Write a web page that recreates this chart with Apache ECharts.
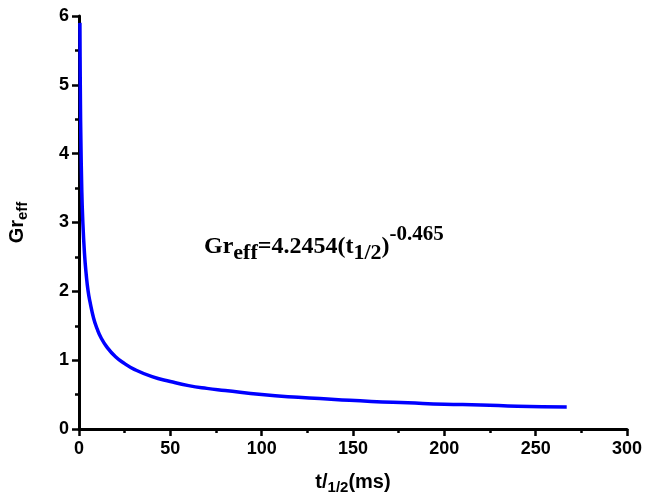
<!DOCTYPE html>
<html>
<head>
<meta charset="utf-8">
<script src="https://cdn.jsdelivr.net/npm/echarts@6/dist/echarts.min.js"></script>
<style>
  html, body { margin: 0; padding: 0; background: #fff; }
  #chart { width: 657px; height: 496px; }
</style>
</head>
<body>
<div id="chart"></div>
<script>
// t1/2 (ms) and Gr_eff
var tHalf = [0.5, 0.6, 0.8, 1, 1.5, 2, 3, 4, 5, 6, 8, 10, 12, 15, 20, 25, 30, 40, 50, 60, 70, 80, 100, 120, 140, 160, 180, 200, 220, 240, 267];
var grEff = [5.9, 5.4, 4.7, 4.25, 3.5, 3.07, 2.55, 2.23, 2.0, 1.85, 1.61, 1.45, 1.33, 1.20, 1.05, 0.95, 0.87, 0.76, 0.69, 0.63, 0.59, 0.56, 0.50, 0.46, 0.43, 0.40, 0.38, 0.36, 0.35, 0.33, 0.32];

var xTicks = [0, 50, 100, 150, 200, 250, 300];
var yTicks = [0, 1, 2, 3, 4, 5, 6];

var chart = echarts.init(document.getElementById('chart'));

var points = [];
for (var i = 0; i < tHalf.length; i++) {
    points.push([tHalf[i], grEff[i]]);
}

var labelFont = {
    color: '#000',
    fontFamily: 'Liberation Sans, Arial, sans-serif',
    fontWeight: 'bold',
    fontSize: 18
};

var nameStyle = {
    color: '#000',
    fontFamily: 'Liberation Sans, Arial, sans-serif',
    fontWeight: 'bold',
    fontSize: 20,
    rich: {
        sub: {
            fontFamily: 'Liberation Sans, Arial, sans-serif',
            fontWeight: 'bold',
            fontSize: 15,
            padding: [10, 0, 0, 0]
        }
    }
};

var option = {
    backgroundColor: '#fff',
    animation: false,
    grid: {
        left: 79,
        right: 30,
        top: 16,
        bottom: 67,
        containLabel: false,
        outerBoundsMode: 'none'
    },
    xAxis: {
        type: 'value',
        min: xTicks[0],
        max: xTicks[xTicks.length - 1],
        interval: 50,
        name: 't/{sub|1/2}(ms)',
        nameLocation: 'middle',
        nameGap: 41,
        nameTextStyle: nameStyle,
        splitLine: { show: false },
        axisLine: { onZero: false, lineStyle: { color: '#000', width: 3 } },
        axisTick: { length: 7, lineStyle: { color: '#000', width: 2.5 } },
        minorTick: { show: true, splitNumber: 2, length: 4, lineStyle: { color: '#000', width: 2.5 } },
        axisLabel: Object.assign({ margin: 11 }, labelFont)
    },
    yAxis: {
        type: 'value',
        min: yTicks[0],
        max: yTicks[yTicks.length - 1],
        interval: 1,
        name: 'Gr{sub|eff}',
        nameLocation: 'middle',
        nameRotate: 90,
        nameGap: 49,
        nameTextStyle: nameStyle,
        splitLine: { show: false },
        axisLine: { onZero: false, lineStyle: { color: '#000', width: 3 } },
        axisTick: { length: 7, lineStyle: { color: '#000', width: 2.5 } },
        minorTick: { show: true, splitNumber: 2, length: 4, lineStyle: { color: '#000', width: 2.5 } },
        axisLabel: Object.assign({ margin: 10 }, labelFont)
    },
    graphic: [{
        type: 'text',
        left: 204,
        top: 224,
        style: {
            text: '{b|Gr}{s|eff}{b|=4.2454(t}{s|1/2}{b|)}{p|-0.465}',
            fill: '#000',
            rich: {
                b: {
                    fontFamily: 'Liberation Serif, Times New Roman, serif',
                    fontWeight: 'bold',
                    fontSize: 24,
                    padding: [10, 0, 0, 0]
                },
                s: {
                    fontFamily: 'Liberation Serif, Times New Roman, serif',
                    fontWeight: 'bold',
                    fontSize: 22,
                    padding: [24, 0, 0, 0]
                },
                p: {
                    fontFamily: 'Liberation Serif, Times New Roman, serif',
                    fontWeight: 'bold',
                    fontSize: 21,
                    padding: [0, 0, 14, 0]
                }
            }
        }
    }],
    series: [{
        type: 'line',
        data: points,
        smooth: true,
        showSymbol: false,
        lineStyle: { color: '#0000ff', width: 3.5 },
        itemStyle: { color: '#0000ff' }
    }]
};

chart.setOption(option);
</script>
</body>
</html>
